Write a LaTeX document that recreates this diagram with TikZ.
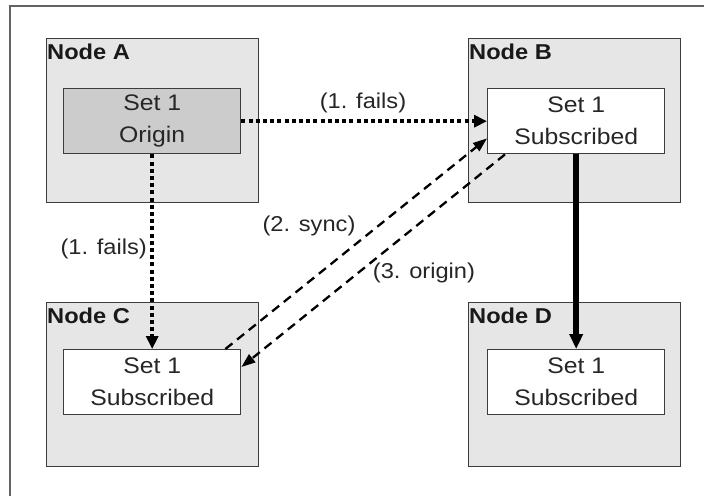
\documentclass[tikz,border=0pt]{standalone}
\usepackage{fontspec}
\setmainfont{Liberation Sans}[FakeStretch=1.1]
\usetikzlibrary{arrows.meta}
\definecolor{boxgray}{HTML}{E6E6E6}
\definecolor{origgray}{HTML}{CCCCCC}
\definecolor{edgegray}{HTML}{3C3C3C}
\definecolor{txt}{HTML}{262626}
\begin{document}
\begin{tikzpicture}[x=1pt,y=-1pt,
  outerbox/.style={draw=edgegray, fill=boxgray, line width=1.4pt, minimum width=212pt, minimum height=164pt, anchor=north west, inner sep=0pt},
  setbox/.style={draw=edgegray, fill=white, line width=1.4pt, minimum width=177pt, minimum height=65pt, anchor=north west, inner sep=0pt, align=center, text=txt, font=\fontsize{22.5}{32}\selectfont},
  nodelabel/.style={anchor=north west, inner sep=0pt, font=\bfseries\fontsize{21.5}{24}\selectfont, text=black!90},
  edgelabel/.style={inner sep=0pt, font=\fontsize{21.5}{24}\selectfont, text=txt},
  dotline/.style={line width=4pt, dash pattern=on 4pt off 3.2pt, -{Triangle[length=13pt,width=12pt]}},
  dashline/.style={line width=2.3pt, dash pattern=on 9pt off 6pt, -{Triangle[length=14pt,width=10pt]}},
  thickline/.style={line width=5.5pt, -{Triangle[length=15pt,width=13pt]}},
]
\useasboundingbox[fill=white] (0,0) rectangle (704,496);
\draw[edgegray!80, line width=1.2pt] (10,496) -- (10,6) -- (704,6);

% outer node boxes
\node[outerbox] (A) at (46,38) {};
\node[outerbox] (B) at (468,38) {};
\node[outerbox] (C) at (46,302) {};
\node[outerbox] (D) at (468,302) {};

\node[nodelabel] (la) at ([shift={(1pt,-6pt)}]A.north west) {Node A};
\node[nodelabel] (lb) at ([shift={(1pt,-6pt)}]B.north west) {Node B};
\node[nodelabel] (lc) at ([shift={(1pt,-6pt)}]C.north west) {Node C};
\node[nodelabel] (ld) at ([shift={(1pt,-6pt)}]D.north west) {Node D};

% inner set boxes
\node[setbox, fill=origgray] (ai) at (63,88) {Set 1\\Origin};
\node[setbox] (bi) at (487,88) {Set 1\\Subscribed};
\node[setbox] (ci) at (63,349) {Set 1\\Subscribed};
\node[setbox] (di) at (487,349) {Set 1\\Subscribed};

% connectors
\draw[dotline] (ai.east) -- (bi.west);
\draw[dotline] (ai.south) -- (ci.north);
\draw[dashline] ([xshift=-16pt]ci.north east) -- ([yshift=16pt]bi.south west);
\draw[dashline] ([xshift=18pt]bi.south west) -- ([yshift=-18pt]ci.north east);
\draw[thickline] (bi.south) -- (di.north);

% labels
\node[edgelabel] (e1) at (363,103) {(1. fails)};
\node[edgelabel, anchor=east] (e2) at (147,249) {(1. fails)};
\node[edgelabel] (e3) at (309,226) {(2. sync)};
\node[edgelabel] (e4) at (424,273) {(3. origin)};
\end{tikzpicture}
\end{document}
